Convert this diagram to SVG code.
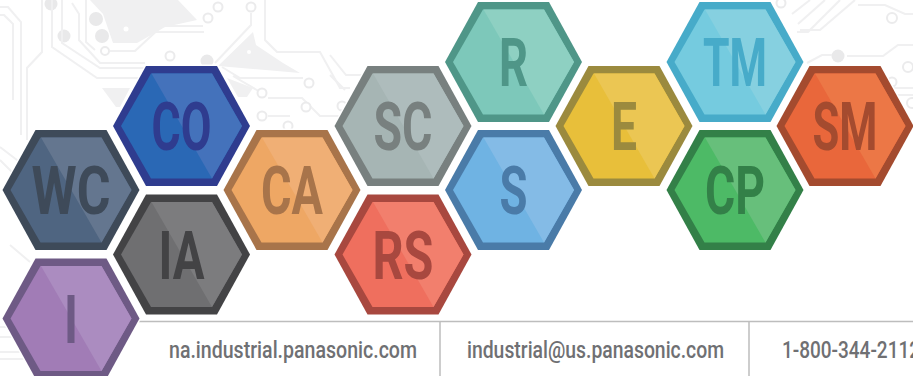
<svg xmlns="http://www.w3.org/2000/svg" width="913" height="376" viewBox="0 0 913 376">
<style>
.t{fill:none;stroke:#f0f0f1;stroke-width:2}
.c{fill:#fff;stroke:#ebebec;stroke-width:2}
.d{fill:#e9e9ea}
.p{fill:#f0f0f1}
.o{fill:var(--o);stroke:#fff;stroke-width:3;paint-order:stroke}
.f{fill:var(--f)}
.l{fill:var(--l)}
.n text{fill:var(--o);font-family:"Roboto","Liberation Sans",sans-serif;font-weight:700;font-size:67px;text-anchor:middle}
.foot{fill:#6f7073;font-family:"Roboto","Liberation Sans",sans-serif;font-weight:500;font-size:24px}
.r{stroke:#bdbdbd;stroke-width:1.5;fill:none}
#WC{--o:#3e4a59;--f:#4f6581;--l:#64768f}
#CO{--o:#2f3c8f;--f:#2a68b5;--l:#4472bb}
#CA{--o:#a8744a;--f:#eea764;--l:#f0af75}
#IA{--o:#434345;--f:#6f6f71;--l:#7c7c7e}
#I{--o:#6e5a85;--f:#a17cb6;--l:#ab8cc0}
#SC{--o:#78807f;--f:#a6b5b4;--l:#aebcbc}
#RS{--o:#a8483f;--f:#ef6f5e;--l:#f27f6d}
#R{--o:#4f9688;--f:#7dc8ba;--l:#8ed0c2}
#S{--o:#4a7ba8;--f:#6fb3e3;--l:#84bbe6}
#E{--o:#9b8a3e;--f:#e8bf3a;--l:#ebc653}
#TM{--o:#47abc9;--f:#75cbdf;--l:#86d0e0}
#CP{--o:#338048;--f:#4dba66;--l:#67bf7b}
#SM{--o:#a44b2f;--f:#e9673b;--l:#ec7746}
</style>
<defs>
<polygon id="ho" points="-35.5,-60 35.5,-60 68.5,0 35.5,60 -35.5,60 -68.5,0"/>
<polygon id="hf" points="-30.5,-52.5 30.5,-52.5 60.5,0 30.5,52.5 -30.5,52.5 -60.5,0"/>
<polygon id="hl" points="-30,-52.5 30.5,-52.5 60.5,0 30.5,52.5"/>
</defs>
<rect width="913" height="376" fill="#fff"/>
<g id="background">
<polygon class="p" points="90,0 103,14 113,43 137,43 165,27 197,20 178,0"/>
<polygon class="p" points="253,32 256,45 283,63 300,73 218,66"/>
<polygon class="p" points="227,78 253,88 247,97 238,97"/>
<polygon class="p" points="102,88 130,88 120,107 116,107"/>
<circle class="d" cx="51" cy="4" r="6.500"/>
<circle class="d" cx="64" cy="36" r="6.500"/>
<circle class="d" cx="96" cy="19" r="7"/>
<circle class="d" cx="102" cy="36" r="7"/>
<circle class="d" cx="207" cy="61" r="6.500"/>
<circle class="d" cx="838" cy="56" r="6.500"/>
<circle cx="126" cy="29" r="2.500" fill="#fff"/>
<circle cx="249" cy="52" r="2" fill="#fff"/>
<path class="t" d="M0 7H8L21 22V135M0 15H4L13 24V100"/>
<path class="t" d="M42 0V52L27 68V140"/>
<path class="t" d="M52 0V47L97 78H145M62 0V43L100 68H145"/>
<path class="t" d="M72 3L79 14V40L100 63H145"/>
<path class="t" d="M86 0V42L95 50"/>
<path class="t" d="M110 51H135L162 26H203M150 32L204 32"/>
<path class="t" d="M251 13V25L215 63"/>
<path class="t" d="M265 0V40L277 52H320L340 88H350"/>
<path class="t" d="M222 67L240 78H303M233 76L262 93M268 98H302L320 116H340"/>
<path class="t" d="M268 116H290M0 147L30 170M0 160L18 178M10 245L30 262"/>
<path class="t" d="M0 327H10M0 337H16M0 352H22M0 359H25"/>
<path class="t" d="M330 55L346 75H370M330 75L345 90"/>
<circle class="c" cx="105" cy="51" r="4"/>
<circle class="c" cx="170" cy="56" r="4.500"/>
<circle class="c" cx="208" cy="18" r="4.500"/>
<circle class="c" cx="218" cy="7" r="4.500"/>
<circle class="c" cx="251" cy="7" r="4.500"/>
<circle class="c" cx="309" cy="83" r="4.500"/>
<circle class="c" cx="262" cy="93" r="4.500"/>
<circle class="c" cx="306" cy="107" r="4.500"/>
<circle class="c" cx="262" cy="116" r="4.500"/>
<circle class="c" cx="342" cy="106" r="4.500"/>
<circle class="c" cx="288" cy="126" r="4.500"/>
<path class="t" d="M855 0L820 30H800M840 0L808 32H797M825 0L798 24M810 0L792 14M858 5H885L905 14H913"/>
<path class="t" d="M847 56H883L898 45H913M807 63L822 55H832M890 88H913M897 95H913"/>
<circle class="c" cx="781" cy="3" r="4.500"/>
<circle class="c" cx="892" cy="18" r="5"/>
<circle class="c" cx="908" cy="67" r="5"/>
<circle class="c" cx="892" cy="82" r="4.500"/>
<circle class="c" cx="912" cy="103" r="5"/>
</g>
<g id="connectors">
<path class="r" d="M139 321.500H913M440 321.500V376M749 321.500V376"/>
</g>
<g id="WC" class="n" transform="translate(71,190)"><use href="#ho" class="o"/><use href="#hf" class="f"/><use href="#hl" class="l"/><text y="24" textLength="79" lengthAdjust="spacingAndGlyphs">WC</text></g>
<g id="CO" class="n" transform="translate(181.500,126)"><use href="#ho" class="o"/><use href="#hf" class="f"/><use href="#hl" class="l"/><text y="24" textLength="60" lengthAdjust="spacingAndGlyphs">CO</text></g>
<g id="CA" class="n" transform="translate(292,190)"><use href="#ho" class="o"/><use href="#hf" class="f"/><use href="#hl" class="l"/><text y="24" textLength="62" lengthAdjust="spacingAndGlyphs">CA</text></g>
<g id="IA" class="n" transform="translate(181.500,254.500)"><use href="#ho" class="o"/><use href="#hf" class="f"/><use href="#hl" class="l"/><text y="24" textLength="46" lengthAdjust="spacingAndGlyphs">IA</text></g>
<g id="I" class="n" transform="translate(71,318.500)"><use href="#ho" class="o"/><use href="#hf" class="f"/><use href="#hl" class="l"/><text y="24" textLength="14" lengthAdjust="spacingAndGlyphs">I</text></g>
<g id="SC" class="n" transform="translate(403,126)"><use href="#ho" class="o"/><use href="#hf" class="f"/><use href="#hl" class="l"/><text y="24" textLength="59" lengthAdjust="spacingAndGlyphs">SC</text></g>
<g id="RS" class="n" transform="translate(403,254.500)"><use href="#ho" class="o"/><use href="#hf" class="f"/><use href="#hl" class="l"/><text y="24" textLength="61" lengthAdjust="spacingAndGlyphs">RS</text></g>
<g id="R" class="n" transform="translate(513.500,62)"><use href="#ho" class="o"/><use href="#hf" class="f"/><use href="#hl" class="l"/><text y="24" textLength="29" lengthAdjust="spacingAndGlyphs">R</text></g>
<g id="S" class="n" transform="translate(513.500,190)"><use href="#ho" class="o"/><use href="#hf" class="f"/><use href="#hl" class="l"/><text y="24" textLength="28" lengthAdjust="spacingAndGlyphs">S</text></g>
<g id="E" class="n" transform="translate(624,126)"><use href="#ho" class="o"/><use href="#hf" class="f"/><use href="#hl" class="l"/><text y="24" textLength="26" lengthAdjust="spacingAndGlyphs">E</text></g>
<g id="TM" class="n" transform="translate(735,62)"><use href="#ho" class="o"/><use href="#hf" class="f"/><use href="#hl" class="l"/><text y="24" textLength="64" lengthAdjust="spacingAndGlyphs">TM</text></g>
<g id="CP" class="n" transform="translate(735,190)"><use href="#ho" class="o"/><use href="#hf" class="f"/><use href="#hl" class="l"/><text y="24" textLength="60" lengthAdjust="spacingAndGlyphs">CP</text></g>
<g id="SM" class="n" transform="translate(845,126)"><use href="#ho" class="o"/><use href="#hf" class="f"/><use href="#hl" class="l"/><text y="24" textLength="65" lengthAdjust="spacingAndGlyphs">SM</text></g>
<g id="footer">
<text class="foot" x="169" y="358" textLength="248" lengthAdjust="spacingAndGlyphs">na.industrial.panasonic.com</text>
<text class="foot" x="467" y="358" textLength="257" lengthAdjust="spacingAndGlyphs">industrial@us.panasonic.com</text>
<text class="foot" x="782" y="358" textLength="138" lengthAdjust="spacingAndGlyphs">1-800-344-2112</text>
</g>
</svg>
